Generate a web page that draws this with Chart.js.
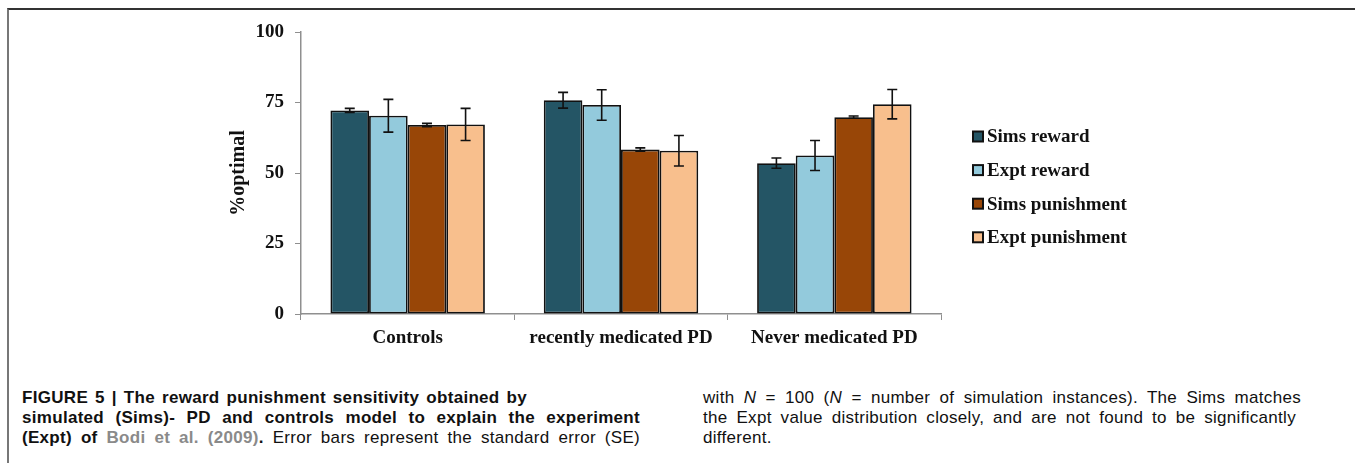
<!DOCTYPE html>
<html>
<head>
<meta charset="utf-8">
<script src="https://cdn.jsdelivr.net/npm/chart.js@4"></script>
<style>
  body { margin: 0; background: #fff; width: 1355px; height: 463px; overflow: hidden; position: relative; }
  #frame { position: absolute; left: 7px; top: 8px; right: 0; bottom: 0; border-top: 2px solid #333; border-left: 2px solid #777; }
  #wrap { position: absolute; left: 0; top: 0; width: 1355px; height: 360px; }
  .cap { position: absolute; font-family: "Liberation Sans", Arial, sans-serif; font-size: 17px; line-height: 20px; letter-spacing: 0.3px; color: #111; white-space: nowrap; }
  .just { text-align: justify; text-align-last: justify; white-space: normal; }
  .b { font-weight: bold; }
  .ref { color: #8a8a8a; font-weight: bold; }
</style>
</head>
<body>
<div id="frame"></div>
<div id="wrap"><canvas id="myCanvas" width="1355" height="360"></canvas></div>

<div class="cap b just" style="left:22px; top:388px; width:505px;">FIGURE 5 | The reward punishment sensitivity obtained by</div>
<div class="cap b just" style="left:22px; top:408px; width:618px;">simulated (Sims)- PD and controls model to explain the experiment</div>
<div class="cap just" style="left:22px; top:428px; width:618px;"><span class="b">(Expt) of</span> <span class="ref">Bodi et al. (2009)</span><span class="b">.</span> Error bars represent the standard error (SE)</div>
<div class="cap just" style="left:703px; top:388px; width:598px;">with <i>N</i> = 100 (<i>N</i> = number of simulation instances). The Sims matches</div>
<div class="cap just" style="left:703px; top:408px; width:593px;">the Expt value distribution closely, and are not found to be significantly</div>
<div class="cap" style="left:703px; top:428px;">different.</div>

<script>
'use strict';

let categories = ['Controls', 'recently medicated PD', 'Never medicated PD'];
let seriesNames = ['Sims reward', 'Expt reward', 'Sims punishment', 'Expt punishment'];
let simsReward = [72.2, 75.8, 53.5];
let exptReward = [70.3, 74.1, 56.2];
let simsPunish = [67.0, 58.3, 69.8];
let exptPunish = [67.2, 57.9, 74.4];
// standard errors
let simsRewardSE = [0.7, 2.8, 1.8];
let exptRewardSE = [5.8, 5.4, 5.3];
let simsPunishSE = [0.6, 0.6, 0.4];
let exptPunishSE = [5.7, 5.4, 5.2];
let yTicks = [0, 25, 50, 75, 100];

const colors = ['#245565', '#93cadc', '#984607', '#f8bf8d'];
const serif = 'Liberation Serif, Times New Roman, serif';

// error bars drawn from the y scale
const errorBars = {
  id: 'errorBars',
  afterDatasetsDraw(chart) {
    const ctx = chart.ctx;
    const yScale = chart.scales.y;
    ctx.save();
    ctx.strokeStyle = '#111';
    ctx.lineWidth = 1.6;
    chart.data.datasets.forEach((ds, i) => {
      let meta = chart.getDatasetMeta(i);
      meta.data.forEach((bar, j) => {
        let v = ds.data[j];
        let e = ds.errors[j];
        let top = yScale.getPixelForValue(v + e);
        let bot = yScale.getPixelForValue(v - e);
        ctx.beginPath();
        ctx.moveTo(bar.x, top);
        ctx.lineTo(bar.x, bot);
        ctx.moveTo(bar.x - 5, top);
        ctx.lineTo(bar.x + 5, top);
        ctx.moveTo(bar.x - 5, bot);
        ctx.lineTo(bar.x + 5, bot);
        ctx.stroke();
      });
    });
    ctx.restore();
  }
};

// legend on the right like the original figure
const sideLegend = {
  id: 'sideLegend',
  afterDraw(chart) {
    const ctx = chart.ctx;
    const area = chart.chartArea;
    let x = area.right + 31;
    let y0 = 136.5;
    ctx.save();
    ctx.font = 'bold 19px ' + serif;
    ctx.textBaseline = 'middle';
    chart.data.datasets.forEach((ds, i) => {
      let y = y0 + i * 33.6;
      ctx.fillStyle = '#111';
      ctx.fillRect(x, y - 6, 12, 12);
      ctx.fillStyle = ds.backgroundColor;
      ctx.fillRect(x + 2, y - 4, 8, 8);
      ctx.fillStyle = '#111';
      ctx.fillText(ds.label, x + 15, y + 1);
    });
    ctx.restore();
  }
};

const data = {
  labels: categories,
  datasets: [
    { label: seriesNames[0], data: simsReward, errors: simsRewardSE, backgroundColor: colors[0] },
    { label: seriesNames[1], data: exptReward, errors: exptRewardSE, backgroundColor: colors[1] },
    { label: seriesNames[2], data: simsPunish, errors: simsPunishSE, backgroundColor: colors[2] },
    { label: seriesNames[3], data: exptPunish, errors: exptPunishSE, backgroundColor: colors[3] }
  ].map(d => Object.assign(d, {
    borderColor: '#111',
    borderWidth: 1.8,
    borderSkipped: false,
    categoryPercentage: 0.724,
    barPercentage: 1
  }))
};

const config = {
  type: 'bar',
  data: data,
  plugins: [errorBars, sideLegend],
  options: {
    responsive: false,
    animation: false,
    layout: { padding: { left: 227, right: 414, top: 32, bottom: 0 } },
    plugins: {
      legend: { display: false },
      tooltip: { enabled: false }
    },
    scales: {
      x: {
        grid: { display: true, drawOnChartArea: false, color: '#8f8f8f', tickLength: 6 },
        border: { color: '#8f8f8f', width: 1.5 },
        ticks: { color: '#111', font: { family: serif, size: 19, weight: 'bold' }, padding: 7, maxRotation: 0 },
        afterFit(scale) { scale.height = 46; }
      },
      y: {
        min: 0,
        max: 100,
        afterBuildTicks(scale) { scale.ticks = yTicks.map(v => ({ value: v })); },
        grid: { display: true, drawOnChartArea: false, color: '#8f8f8f', tickLength: 6 },
        border: { color: '#8f8f8f', width: 1.5 },
        ticks: { color: '#111', font: { family: serif, size: 19, weight: 'bold' }, padding: 11 },
        title: {
          display: true,
          text: '%optimal',
          color: '#111',
          font: { family: serif, size: 20, weight: 'bold' },
          padding: 0
        },
        afterFit(scale) { scale.width = 74; }
      }
    }
  }
};

const chart = document.getElementById('myCanvas');
const myChart = new Chart(chart, config);
</script>
</body>
</html>
